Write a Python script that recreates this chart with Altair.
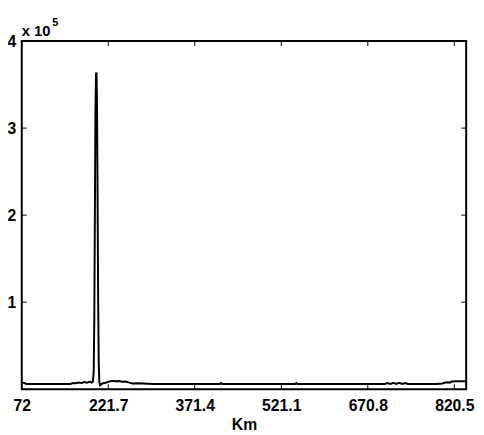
import altair as alt
import pandas as pd

# Distance (km) and signal values
km = [72, 76, 80, 90, 110, 130, 150, 156, 160, 165, 170, 175, 180, 185, 190, 193, 195,
      196.5, 197.5, 198.5, 199.5, 200.5, 201.3, 202.2, 203.2, 204.2, 205.2, 206.2, 207.5,
      209, 212, 216, 222, 228, 234, 240, 246, 252, 258, 264, 275, 290, 300, 350, 415, 417,
      419, 450, 500, 545, 547, 549, 600, 660, 700, 705, 710, 715, 720, 725, 730, 736, 740,
      790, 800, 805, 810, 813, 816, 825, 841]
val = [7300, 7200, 6000, 5900, 5900, 5900, 5900, 6000, 7000, 6800, 7600, 7000, 8200, 7400,
       8600, 7500, 8500,
       20000, 80000, 200000, 320000, 362000, 364000, 330000, 220000, 100000, 30000, 8000, 4500,
       5000, 6800, 7000, 8500, 9500, 9000, 9300, 8500, 8800, 7500, 6500, 6800, 6300, 5900, 5900,
       5900, 7000,
       5900, 5900, 5900, 5900, 7000, 5900, 5900, 5900, 5900, 7000, 6000, 7200, 6000, 7200, 6000,
       7000, 5900,
       5900, 6500, 7600, 8000, 7500, 8800, 9000, 9000]

x_ticks = [72, 221.7, 371.4, 521.1, 670.8, 820.5]
y_ticks = [100000, 200000, 300000, 400000]
x_domain = [72, 841]
y_domain = [0, 400000]
exp_base = ["x 10"]
exp_power = ["5"]

W, H = 452, 354
FONT = "Liberation Sans"

xs = alt.Scale(domain=x_domain, nice=False, zero=False)
ys = alt.Scale(domain=y_domain, nice=False, zero=False)

x_axis = alt.Axis(
    values=x_ticks, title="Km", labelFlush=False, ticks=False, domain=False, grid=False,
    labelExpr="format(datum.value, '~f')",
    labelFont=FONT, labelFontSize=16, labelFontWeight="bold", labelColor="black",
    labelPadding=9, titleFont=FONT, titleFontSize=16, titleFontWeight="bold",
    titleColor="black", titlePadding=3)
y_axis = alt.Axis(
    values=y_ticks, title=None, labelFlush=False, ticks=False, domain=False, grid=False,
    labelExpr="format(datum.value / 100000, 'd')",
    labelFont=FONT, labelFontSize=16, labelFontWeight="bold", labelColor="black",
    labelPadding=6)

df = pd.DataFrame({"km": km, "v": val})

line = alt.Chart(df).mark_line(color="black", strokeWidth=2, clip=True).encode(
    x=alt.X("km:Q", scale=xs, axis=x_axis),
    y=alt.Y("v:Q", scale=ys, axis=y_axis),
)

xt = pd.DataFrame({"km": x_ticks})
yt = pd.DataFrame({"v": y_ticks})

bottom_ticks = alt.Chart(xt).mark_rule(color="black", strokeWidth=1).encode(
    x=alt.X("km:Q", scale=xs, axis=x_axis), y=alt.value(H), y2=alt.value(H - 5))
top_ticks = alt.Chart(xt).mark_rule(color="black", strokeWidth=1).encode(
    x=alt.X("km:Q", scale=xs, axis=x_axis), y=alt.value(0), y2=alt.value(5))
left_ticks = alt.Chart(yt).mark_rule(color="black", strokeWidth=1).encode(
    y=alt.Y("v:Q", scale=ys, axis=y_axis), x=alt.value(0), x2=alt.value(5))
right_ticks = alt.Chart(yt).mark_rule(color="black", strokeWidth=1).encode(
    y=alt.Y("v:Q", scale=ys, axis=y_axis), x=alt.value(W), x2=alt.value(W - 5))

anchor = pd.DataFrame({"km": [x_domain[0]], "v": [y_domain[1]], "base": exp_base, "pw": exp_power})
base_txt = alt.Chart(anchor).mark_text(
    align="left", baseline="alphabetic", dx=0, dy=-5, font=FONT, fontSize=15,
    fontWeight="bold", color="black").encode(
    x=alt.X("km:Q", scale=xs, axis=x_axis), y=alt.Y("v:Q", scale=ys, axis=y_axis), text="base:N")
pow_txt = alt.Chart(anchor).mark_text(
    align="left", baseline="alphabetic", dx=31, dy=-15, font=FONT, fontSize=11,
    fontWeight="bold", color="black").encode(
    x=alt.X("km:Q", scale=xs, axis=x_axis), y=alt.Y("v:Q", scale=ys, axis=y_axis), text="pw:N")

chart = alt.layer(line, bottom_ticks, top_ticks, left_ticks, right_ticks, base_txt, pow_txt).properties(
    width=W, height=H,
    autosize=alt.AutoSizeParams(type="none"),
    padding={"left": 14, "top": 30, "right": 10, "bottom": 45},
    background="white",
).configure_view(stroke="black", strokeWidth=2)

chart.save("out.html", embed_options={"renderer": "svg", "actions": False})
